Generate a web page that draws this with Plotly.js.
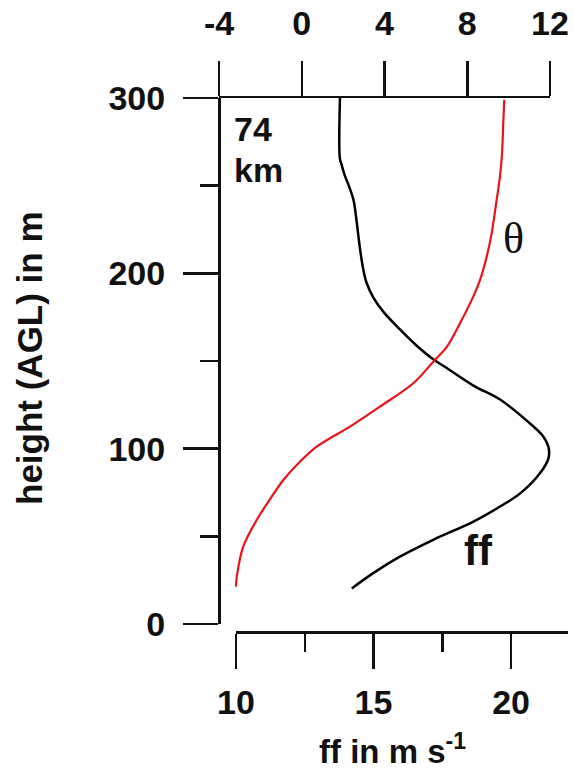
<!DOCTYPE html>
<html>
<head>
<meta charset="utf-8">
<script src="https://cdn.plot.ly/plotly-3.0.1.min.js"></script>
<style>html,body{margin:0;padding:0;background:#fff;}#chart{width:574px;height:771px;}</style>
</head>
<body>
<div id="chart"></div>
<script>
// wind speed ff (m/s, bottom axis) vs height (m AGL)
const ffValues  = [13.78, 13.78, 13.84, 13.95, 14.10, 14.27, 14.39, 14.50, 14.63, 14.75, 15.00, 15.36, 15.96, 16.55, 17.17, 17.66, 18.63, 19.60, 20.57, 21.17, 21.36, 21.36, 21.05, 20.33, 19.60, 18.63, 17.17, 15.96, 14.99, 14.21];
const ffHeights = [300, 265, 262, 256, 250, 242, 229, 215, 202, 194.5, 186, 178, 168, 159, 151, 146, 136, 128, 116, 107, 101, 94.5, 86, 74.5, 67, 58.4, 48, 38.4, 29, 20.3];
// potential temperature theta (top axis) vs height (m AGL)
const thetaValues  = [9.79, 9.74, 9.68, 9.58, 9.42, 9.18, 8.94, 8.61, 8.29, 7.65, 7.01, 6.36, 5.39, 3.78, 2.33, 0.72, -0.30, -0.89, -1.60, -2.18, -2.83, -3.14, -3.18];
const thetaHeights = [299, 285.6, 268, 255, 241.8, 222.8, 209.5, 196, 186.7, 171.5, 158, 149.6, 137.3, 124, 112.6, 101.1, 90, 82.1, 70, 59.3, 44.1, 27, 21.3];
const topTicks = [-4, 0, 4, 8, 12];
const bottomTicks = [10, 15, 20];
const heightTicks = [0, 100, 200, 300];

const F = 'Liberation Sans, Arial, sans-serif';
const tickFont = {family: F, size: 34, weight: 'bold', color: '#111'};

const traces = [
  {x: ffValues, y: ffHeights, xaxis: 'x', yaxis: 'y', mode: 'lines',
   line: {color: '#000', width: 2.5, shape: 'spline', smoothing: 1}, hoverinfo: 'skip'},
  {x: thetaValues, y: thetaHeights, xaxis: 'x2', yaxis: 'y', mode: 'lines',
   line: {color: '#e8141a', width: 2.2, shape: 'spline', smoothing: 1}, hoverinfo: 'skip'}
];

const axisCommon = {showline: true, linecolor: '#111', linewidth: 2.5, ticks: 'outside',
  ticklen: 35, tickwidth: 2.5, tickcolor: '#111', showgrid: false, zeroline: false,
  tickfont: tickFont, fixedrange: true};

const layout = {
  width: 574, height: 771,
  margin: {l: 219, r: 6, t: 98, b: 139},
  paper_bgcolor: '#fff', plot_bgcolor: 'rgba(0,0,0,0)',
  showlegend: false,
  xaxis: Object.assign({}, axisCommon, {
    domain: [17/349, 1], range: [10, 22.07], anchor: 'free', position: 0, side: 'bottom',
    tickvals: bottomTicks, ticktext: bottomTicks.map(String), ticklabelstandoff: 5,
    minor: {tickvals: [12.5, 17.5], ticks: 'outside', ticklen: 18, tickwidth: 2.5, tickcolor: '#111'}
  }),
  xaxis2: Object.assign({}, axisCommon, {
    domain: [0, 331/349], range: [-4, 12], anchor: 'y', side: 'top',
    tickvals: topTicks, ticktext: topTicks.map(String), ticklabelstandoff: 12
  }),
  yaxis: Object.assign({}, axisCommon, {
    domain: [8/534, 1], range: [0, 300], anchor: 'free', position: 0, side: 'left',
    tickvals: heightTicks, ticktext: heightTicks.map(String), ticklabelstandoff: 11,
    minor: {tickvals: [50, 150, 250], ticks: 'outside', ticklen: 18, tickwidth: 2.5, tickcolor: '#111'}
  }),
  annotations: [
    {xref: 'paper', yref: 'paper', x: (392-219)/349, y: (632-749)/534, text: 'ff in m s<sup>-1</sup>',
     showarrow: false, font: {family: F, size: 33, weight: 'bold', color: '#111'}, xanchor: 'center', yanchor: 'middle'},
    {xref: 'paper', yref: 'paper', x: (29-219)/349, y: (632-358)/534, text: 'height (AGL) in m', textangle: -90,
     showarrow: false, font: {family: F, size: 35, weight: 'bold', color: '#111'}, xanchor: 'center', yanchor: 'middle'},
    {xref: 'paper', yref: 'paper', x: (232-219)/349, y: (632-129)/534, text: '74',
     showarrow: false, font: {family: F, size: 34, weight: 'bold', color: '#111'}, xanchor: 'left', yanchor: 'middle'},
    {xref: 'paper', yref: 'paper', x: (232-219)/349, y: (632-170)/534, text: 'km',
     showarrow: false, font: {family: F, size: 34, weight: 'bold', color: '#111'}, xanchor: 'left', yanchor: 'middle'},
    {xref: 'paper', yref: 'paper', x: (513-219)/349, y: (632-238)/534, text: 'θ',
     showarrow: false, font: {family: 'Liberation Serif, Times New Roman, serif', size: 44, color: '#111'}, xanchor: 'center', yanchor: 'middle'},
    {xref: 'paper', yref: 'paper', x: (478-219)/349, y: (632-550)/534, text: 'ff',
     showarrow: false, font: {family: F, size: 42, weight: 'bold', color: '#111'}, xanchor: 'center', yanchor: 'middle'}
  ]
};

Plotly.newPlot('chart', traces, layout, {displayModeBar: false, staticPlot: true});
</script>
</body>
</html>
